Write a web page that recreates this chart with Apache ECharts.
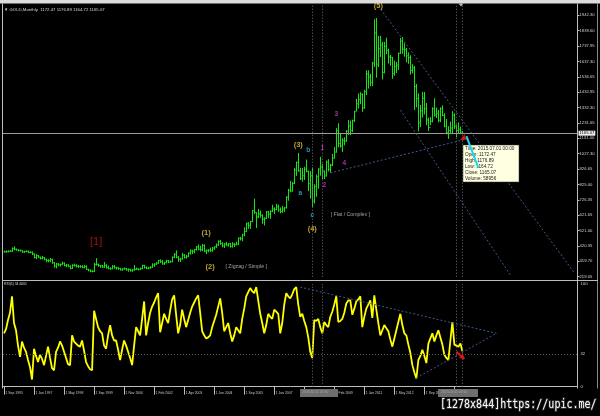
<!DOCTYPE html>
<html><head><meta charset="utf-8">
<script src="https://cdn.jsdelivr.net/npm/echarts@6/dist/echarts.min.js"></script>
<style>html,body{margin:0;padding:0;background:#000;}#c{width:600px;height:416px;}</style>
</head><body><div id="c"></div><script>
// ---- data (monthly bars, Sep 1995 .. Jul 2015, as drawn) ----
const firstOpen = 382;
const lastOpen = 1172.47;
const closes = [
384,383,387,387,
405,400,396,392,391,382,385,387,379,379,369,
345,358,348,340,345,334,326,325,332,311,290,
303,297,301,308,293,296,288,273,294,292,288,
287,287,280,286,268,262,255,254,299,300,292,290,
283,293,278,274,272,288,277,277,273,264,270,272,
265,267,258,264,267,270,266,273,293,279,275,277,
282,296,302,308,326,318,304,312,324,316,318,347,
367,347,334,336,361,346,354,375,388,386,398,416,
400,396,426,388,393,395,391,408,416,429,452,438,
422,435,428,435,418,435,430,433,473,470,495,517,
568,556,582,654,643,613,633,624,599,604,646,632,
650,665,662,680,659,650,665,673,743,789,783,834,
923,972,916,865,885,928,913,833,884,717,815,878,
928,942,916,883,975,927,955,1001,1040,1182,1096,
1081,1118,1113,1179,1212,1181,1248,1307,1359,1386,1421,
1332,1439,1556,1536,1500,1628,1826,1620,1722,1746,1565,
1737,1710,1668,1664,1558,1604,1614,1691,1773,1719,1714,1675,
1664,1578,1595,1472,1393,1234,1313,1395,1327,1253,1202,
1244,1326,1284,1296,1250,1327,1282,1211,1171,1182,1199,
1283,1212,1183,1190,1172,1165.07];
const highs = [
387,390,389,390,
409,416,401,396,395,390,387,389,388,384,382,
369,365,359,348,352,345,335,332,339,335,312,
307,305,303,315,310,300,297,290,298,302,298,
293,291,291,292,290,268,263,259,307,338,302,293,
293,313,298,289,277,292,292,281,278,274,272,276,
274,270,268,266,293,276,271,276,295,294,284,281,
284,304,304,313,327,330,327,314,327,326,322,350,
371,389,352,341,373,365,360,377,396,394,399,417,
428,420,432,429,395,397,408,412,416,434,455,457,
443,437,446,437,438,443,437,447,474,479,498,541,
572,575,584,655,730,640,663,652,627,607,649,649,
653,690,673,696,690,672,683,676,746,795,848,840,
932,975,1032,934,932,940,988,916,912,935,825,889,
931,1006,960,915,982,990,960,1025,1070,1195,1227,
1162,1128,1135,1181,1249,1245,1251,1310,1388,1424,1432,
1424,1448,1576,1577,1553,1632,1913,1921,1803,1804,1764,
1764,1791,1719,1677,1665,1641,1632,1693,1790,1796,1755,1723,
1694,1676,1617,1605,1487,1424,1348,1434,1434,1361,1263,
1268,1332,1392,1331,1315,1332,1345,1293,1255,1208,1238,
1307,1293,1219,1232,1205,1176.89];
const lows = [
382,381,383,385,
386,396,394,389,389,380,380,384,377,377,365,
343,338,345,336,336,332,317,317,318,307,282,
277,291,289,298,291,285,285,271,274,290,283,
281,281,278,278,267,257,252,251,253,295,287,281,
280,281,276,271,268,271,275,269,268,263,262,268,
262,255,256,255,262,266,264,266,271,277,271,272,
276,281,287,300,307,313,301,300,310,312,315,317,
344,344,320,319,335,342,341,351,367,372,376,394,
397,389,391,384,371,383,386,387,400,412,425,433,
416,412,424,420,414,414,418,429,432,461,456,489,
516,538,538,582,635,543,608,612,571,560,602,609,
603,648,636,661,650,640,644,648,672,723,778,783,
833,887,914,860,849,860,910,786,737,681,705,749,
802,888,866,865,883,916,908,951,1001,1040,1075,
1074,1045,1088,1111,1157,1155,1175,1241,1313,1331,1360,
1309,1330,1420,1462,1478,1478,1605,1534,1604,1670,1523,
1563,1688,1627,1613,1527,1547,1564,1586,1690,1692,1672,1635,
1626,1555,1563,1321,1338,1180,1208,1271,1292,1221,1182,
1222,1240,1277,1268,1240,1241,1281,1207,1161,1131,1170,
1167,1197,1142,1170,1162,1164.72];
const rsi = [
52,56,65,72,88,62,55,40,29,44,
38,34,26,19,7,37,30,24,31,27,
21,30,39,28,18,16,34,38,44,40,
34,28,22,21,50,44,42,40,39,45,
35,24,20,17,16,74,66,58,54,52,
40,37,50,60,50,45,45,36,26,36,
45,40,34,28,21,40,58,54,50,66,
83,50,62,72,78,82,87,91,53,62,
71,66,62,74,85,89,70,52,60,75,
66,58,65,72,78,82,86,89,72,54,
50,47,48,50,58,64,70,78,86,72,
54,58,62,52,44,50,58,55,52,66,
76,88,92,96,93,91,97,84,71,62,
52,60,71,68,66,75,73,71,52,62,
80,91,88,86,90,95,97,80,68,71,
64,58,48,34,28,65,64,66,58,52,
63,60,58,68,73,80,88,63,64,66,
72,81,84,84,70,76,83,85,88,58,
68,76,80,84,67,89,75,62,50,55,
60,57,54,46,39,47,55,63,71,60,
52,50,41,33,21,14,8,26,30,36,
30,23,42,47,52,44,50,55,48,41,
31,28,26,45,63,41,40,39,42,34.6061];
const currentPrice = 1165.07;
const priceTickLabels = ['219.05','319.70','420.35','521.00','621.65','726.35','825.00','926.65','1027.30','1131.00','1231.65','1332.30','1432.95','1536.65','1637.30','1737.95','1839.60','1942.30'];
const rsiTickLabels = [0, 32, 100];
const timeTickBars = [0,15,30,45,60,75,90,105,120,135,150,165,180,195,210,225];
const timeTickLabels = ['1 Sep 1995','1 Jan 1997','1 May 1998','1 Sep 1999','1 Nov 2000','1 Feb 2002','1 Apr 2003','1 Jun 2004','1 Sep 2005','1 Jan 2007','1 Apr 2008','1 Feb 2009','1 Jan 2011','1 May 2012','1 Sep 2013','1 Jan 2015'];
const verticalLineBars = [154, 159, 226, 229];
// wave annotations [bar, price]
const annotTexts  = ['(5)','(3)','b','1','3','4','2','a','c','(4)','[ Flat / Complex ]','(1)','(2)','[ Zigzag / Simple ]','[1]'];
const annotBars   = [187,147,152,159,166,170,160,148,154,154,173,101,103,121,46];
const annotPrices = [2003,1087,1051,1065,1290,970,823,769,626,531,626,509,285,285,450];
const annotKinds  = ['Y','Y','C','M','M','M','M','C','C','Y','G','Y','Y','G','R'];
// trend lines [[bar,price],[bar,price]]
const priceTrendLines = [[[187,2003],[285,243]], [[198,1318],[253,230]], [[163,903],[233,1133]]];
const cyanLine = [[231,1146],[237,936]];
const rsiTrendLines = [[[148,97],[246,52]], [[206,8.5],[246,52]]];
const rsiArrow = [[226,34],[230,27]];
const redMarker = [228,1120];
const tooltipLines = ['Time: 2015.07.01 00:00','Open: 1172.47','High: 1176.89','Low: 1164.72','Close: 1165.07','Volume: 58956'];
const titleText = '\u25BC GOLD,Monthly  1172.47 1176.89 1164.72 1165.07';
const rsiTitle = 'RSI(5) 34.6061';

// ---- chart ----
const N_CATS = 287;
const cats = Array.from({length: N_CATS}, (_, i) => String(i));
const barData = closes.map((c, i) => [i, i === 0 ? firstOpen : (i === closes.length - 1 ? lastOpen : closes[i - 1]), c, lows[i], highs[i]]);
const BAR_COLOR = '#14e614';
const kindStyle = {
  Y: {color: '#e8c83c', fontSize: 7.5, fontWeight: 'bold'},
  C: {color: '#3cb4e6', fontSize: 6.5, fontWeight: 'bold'},
  M: {color: '#d23cd2', fontSize: 6.5, fontWeight: 'bold'},
  G: {color: '#c8c8c8', fontSize: 5.2, fontWeight: 'normal'},
  R: {color: '#c81818', fontSize: 11, fontWeight: 'normal'}
};
const annotData = annotTexts.map((t, i) => ({
  value: [annotBars[i], annotPrices[i]],
  label: Object.assign({show: true, position: 'inside', formatter: t, fontFamily: 'Liberation Sans'}, kindStyle[annotKinds[i]])
}));
const dotted = {color: '#3f5a8c', type: [2, 2], width: 1};
const vstyle = {color: '#6e6e6e', type: [1, 2], width: 1};
const tickShow = (i) => timeTickBars.indexOf(i) >= 0;
const FONT = 'Liberation Sans';

function renderBar(params, api) {
  const i = api.value(0);
  const pO = api.coord([i, api.value(1)]);
  const pC = api.coord([i, api.value(2)]);
  const pL = api.coord([i, api.value(3)]);
  const pH = api.coord([i, api.value(4)]);
  const x = Math.round(pL[0]) + 0.5;
  const st = {stroke: BAR_COLOR, lineWidth: 1};
  return {type: 'group', children: [
    {type: 'line', shape: {x1: x, y1: pH[1] - 0.5, x2: x, y2: pL[1] + 0.5}, style: st},
    {type: 'line', shape: {x1: x - 1, y1: pO[1], x2: x, y2: pO[1]}, style: st},
    {type: 'line', shape: {x1: x, y1: pC[1], x2: x + 1, y2: pC[1]}, style: st}
  ]};
}

const chart = echarts.init(document.getElementById('c'), null, {renderer: 'canvas'});
chart.setOption({
  animation: false,
  backgroundColor: '#000',
  grid: [
    {left: 3, right: 22.5, top: 5, height: 271.7},
    {left: 3, right: 22.5, top: 284, height: 102.7}
  ],
  xAxis: [
    {type: 'category', gridIndex: 0, data: cats, boundaryGap: true,
     axisLine: {show: false}, axisTick: {show: false}, axisLabel: {show: false}, splitLine: {show: false}},
    {type: 'category', gridIndex: 1, data: cats, boundaryGap: true, offset: 1.8,
     axisLine: {show: true, lineStyle: {color: '#bdbdbd', width: 1}},
     axisTick: {show: true, alignWithLabel: true, interval: tickShow, length: 8, lineStyle: {color: '#bdbdbd'}},
     axisLabel: {show: true, interval: tickShow, align: 'left', margin: 3, padding: [0, 0, 0, 1.5],
       fontSize: 3.4, color: '#c8c8c8', fontFamily: FONT,
       formatter: (v, i) => { const k = timeTickBars.indexOf(i); return k >= 0 ? timeTickLabels[k] : ''; }},
     splitLine: {show: false}}
  ],
  yAxis: [
    {type: 'value', gridIndex: 0, position: 'right', min: 219.05, max: 2010, interval: 101.37, scale: true,
     axisLine: {show: false}, axisTick: {show: true, length: 2, lineStyle: {color: '#bdbdbd'}},
     axisLabel: {show: true, margin: 2, fontSize: 4.2, color: '#d0d0d0', fontFamily: FONT, showMaxLabel: false,
       formatter: (v, i) => priceTickLabels[i] !== undefined ? priceTickLabels[i] : ''},
     splitLine: {show: false}},
    {type: 'value', gridIndex: 1, position: 'right', min: 0, max: 100, interval: 4,
     axisLine: {show: false}, axisTick: {show: false},
     axisLabel: {show: true, margin: 3, fontSize: 4.2, color: '#d0d0d0', fontFamily: FONT,
       formatter: (v) => rsiTickLabels.indexOf(Math.round(v)) >= 0 && Math.abs(v - Math.round(v)) < 1e-6 ? String(Math.round(v)) : ''},
     splitLine: {show: false}}
  ],
  series: [
    {type: 'custom', xAxisIndex: 0, yAxisIndex: 0, data: barData, renderItem: renderBar, silent: true, z: 3,
     encode: {x: 0, y: [1, 2, 3, 4]},
     markLine: {silent: true, symbol: ['none', 'none'], animation: false, label: {show: false},
       data: [
         {yAxis: currentPrice, lineStyle: {color: '#9a9a9a', type: 'solid', width: 1},
          label: {show: true, position: 'end', distance: 1, formatter: currentPrice.toFixed(2), backgroundColor: '#eeeeee',
                  color: '#000', fontSize: 4.2, padding: [1, 1, 0, 1], fontFamily: FONT}},
         ...verticalLineBars.map(b => ({xAxis: b, lineStyle: vstyle, label: {show: false}})),
         ...priceTrendLines.map(l => [{coord: l[0], lineStyle: dotted}, {coord: l[1]}])
       ]},
     markPoint: {silent: true, animation: false, data: [
       {coord: redMarker, symbol: 'arrow', symbolSize: [5, 7], symbolRotate: 120, itemStyle: {color: '#e01414'}, label: {show: false}}
     ]}
    },
    {type: 'line', xAxisIndex: 0, yAxisIndex: 0, data: cyanLine, symbol: 'none', silent: true, z: 120,
     lineStyle: {color: '#1ed2f0', width: 2}},
    {type: 'scatter', xAxisIndex: 0, yAxisIndex: 0, symbolSize: 0, data: annotData, silent: true, z: 5},
    {type: 'line', xAxisIndex: 1, yAxisIndex: 1, data: rsi, symbol: 'none', smooth: false,
     lineStyle: {color: '#ffff00', width: 1.8},
     markLine: {silent: true, symbol: ['none', 'none'], animation: false, label: {show: false},
       data: [
         {yAxis: 32, lineStyle: {color: '#5a5a5a', type: [1, 2], width: 1}},
         ...verticalLineBars.map(b => ({xAxis: b, lineStyle: vstyle})),
         ...rsiTrendLines.map(l => [{coord: l[0], lineStyle: dotted}, {coord: l[1]}]),
         [{coord: rsiArrow[0], symbol: 'none', lineStyle: {color: '#e01414', width: 2, type: 'solid'}},
          {coord: rsiArrow[1], symbol: 'arrow', symbolSize: 5}]
       ]}
    }
  ],
  graphic: [
    {type: 'rect', shape: {x: 0, y: 0, width: 600, height: 3.5}, style: {fill: '#dcdcdc'}, z: 100, silent: true},
    {type: 'line', shape: {x1: 2.5, y1: 3.5, x2: 2.5, y2: 388.5}, style: {stroke: '#bdbdbd', lineWidth: 1}, z: 50, silent: true},
    {type: 'line', shape: {x1: 577.5, y1: 3.5, x2: 577.5, y2: 388.5}, style: {stroke: '#bdbdbd', lineWidth: 1}, z: 50, silent: true},
    {type: 'line', shape: {x1: 597.5, y1: 3.5, x2: 597.5, y2: 388.5}, style: {stroke: '#8a8a8a', lineWidth: 1}, z: 50, silent: true},
    {type: 'line', shape: {x1: 2.5, y1: 280.5, x2: 598, y2: 280.5}, style: {stroke: '#bdbdbd', lineWidth: 1}, z: 50, silent: true},
    {type: 'polygon', shape: {points: [[458.5, 3.5], [463.5, 3.5], [461, 6.5]]}, style: {fill: '#bdbdbd'}, z: 101, silent: true},
    {type: 'text', x: 4, y: 7.5, style: {text: titleText, fill: '#d8d8d8', fontSize: 4.3, fontFamily: FONT}, z: 60, silent: true},
    {type: 'text', x: 4, y: 283, style: {text: rsiTitle, fill: '#d8d8d8', fontSize: 3.4, fontFamily: FONT}, z: 60, silent: true},
    {type: 'rect', shape: {x: 300, y: 389, width: 38, height: 8}, style: {fill: '#6e6e6e'}, z: 60, silent: true},
    {type: 'text', x: 302, y: 390.5, style: {text: '2008.10.01 00:00', fill: '#a8a8a8', fontSize: 3.4, fontFamily: FONT}, z: 61, silent: true},
    {type: 'rect', shape: {x: 438, y: 389, width: 40, height: 8}, style: {fill: '#6e6e6e'}, z: 60, silent: true},
    {type: 'text', x: 441, y: 390.5, style: {text: '2015.03.01 00:00', fill: '#a8a8a8', fontSize: 3.4, fontFamily: FONT}, z: 61, silent: true},
    {type: 'group', x: 463, y: 145, z: 80, silent: true, children: [
      {type: 'rect', shape: {x: 0, y: 0, width: 56, height: 37}, style: {fill: '#ffffe1', stroke: '#303030', lineWidth: 0.5}, z: 80},
      ...tooltipLines.map((t, i) => ({type: 'text', x: 2, y: 1.5 + i * 5.9, style: {text: t, fill: '#202020', fontSize: 4.7, fontFamily: FONT}, z: 81}))
    ]},
    {type: 'text', x: 440, y: 398, scaleY: 1.3, style: {text: '[1278x844]https://upic.me/', fill: '#ffffff', stroke: '#303030', lineWidth: 1.5,
      fontSize: 10, fontFamily: 'DejaVu Sans Mono'}, z: 90, silent: true}
  ]
});
</script></body></html>
